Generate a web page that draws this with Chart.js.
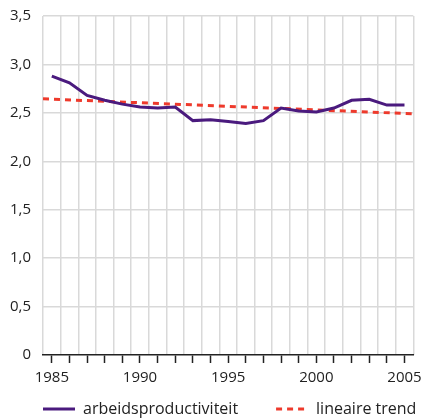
<!DOCTYPE html>
<html>
<head>
<meta charset="utf-8">
<script src="https://cdn.jsdelivr.net/npm/chart.js@4/dist/chart.umd.min.js"></script>
<style>
  html, body { margin: 0; padding: 0; background: #ffffff; }
  #wrap { width: 428px; height: 418px; position: relative; }
</style>
</head>
<body>
<div id="wrap"><canvas id="c" width="428" height="418"></canvas></div>
<script>
// ---- data ----
const years = [1985, 1986, 1987, 1988, 1989, 1990, 1991, 1992, 1993, 1994, 1995,
               1996, 1997, 1998, 1999, 2000, 2001, 2002, 2003, 2004, 2005];
const productivity = [2.88, 2.81, 2.68, 2.63, 2.59, 2.56, 2.55, 2.56, 2.42, 2.43, 2.41,
                      2.39, 2.42, 2.55, 2.52, 2.51, 2.55, 2.63, 2.64, 2.58, 2.58];
const trendYears = [1984.5, 2005.5];
const trendValues = [2.645, 2.49];
const labeledYears = [1985, 1990, 1995, 2000, 2005];
const yTicks = [0, 0.5, 1.0, 1.5, 2.0, 2.5, 3.0, 3.5];
const seriesLabels = ['arbeidsproductiviteit', 'lineaire trend'];

const FONT = "'Open Sans', 'DejaVu Sans', sans-serif";
const TXT = '#222222';
const GRID = '#d9d9d9';

const xMin = years[0] - 0.5;
const xMax = years[years.length - 1] + 0.5;

// place the legend row (drawn by Chart.js) at the reference position, on one line
const legendPlacer = {
  id: 'legendPlacer',
  afterLayout(chart) {
    const lg = chart.legend;
    if (!lg) return;
    lg.left = 5;
    lg.right = chart.width + 200;
    lg.width = lg.right - lg.left;
    lg.top = 363;
    lg.bottom = chart.height;
    lg.height = lg.bottom - lg.top;
  }
};

new Chart(document.getElementById('c'), {
  type: 'line',
  data: {
    datasets: [
      {
        label: seriesLabels[0],
        data: years.map((y, i) => ({ x: y, y: productivity[i] })),
        borderColor: '#4a1a7e',
        backgroundColor: '#4a1a7e',
        borderWidth: 3,
        pointRadius: 0,
        tension: 0,
        xAxisID: 'x'
      },
      {
        label: seriesLabels[1],
        data: trendYears.map((y, i) => ({ x: y, y: trendValues[i] })),
        borderColor: '#ee3a2c',
        backgroundColor: '#ee3a2c',
        borderWidth: 3,
        borderDash: [6, 5],
        pointRadius: 0,
        tension: 0,
        xAxisID: 'x'
      }
    ]
  },
  plugins: [legendPlacer],
  options: {
    responsive: false,
    animation: false,
    devicePixelRatio: 1,
    layout: { padding: { left: 0, right: 7, top: 16, bottom: 0 } },
    plugins: {
      tooltip: { enabled: false },
      legend: {
        position: 'bottom',
        align: 'start',
        maxHeight: 28,
        labels: {
          usePointStyle: true,
          pointStyleWidth: 32,
          boxHeight: 16,
          padding: 38,
          color: TXT,
          font: { family: FONT, size: 16 },
          generateLabels: (chart) => chart.data.datasets.map((ds, i) => ({
            text: ds.label,
            fillStyle: 'transparent',
            strokeStyle: ds.borderColor,
            lineWidth: 3,
            lineDash: ds.borderDash || [],
            lineCap: 'butt',
            pointStyle: 'line',
            hidden: false,
            datasetIndex: i,
            fontColor: TXT
          }))
        }
      }
    },
    scales: {
      x: {
        type: 'linear',
        position: 'bottom',
        min: xMin,
        max: xMax,
        afterBuildTicks: (scale) => { scale.ticks = years.map(v => ({ value: v })); },
        afterFit: (scale) => { scale.height = 35; },
        grid: {
          drawOnChartArea: false,
          drawTicks: true,
          tickLength: 8,
          tickColor: TXT,
          tickWidth: 1.5
        },
        border: { display: true, color: TXT, width: 1.5 },
        ticks: {
          autoSkip: false,
          maxRotation: 0,
          padding: 6,
          color: TXT,
          font: { family: FONT, size: 15 },
          callback: (v) => labeledYears.includes(v) ? String(v) : ''
        }
      },
      x2: {
        type: 'linear',
        position: 'top',
        min: xMin,
        max: xMax,
        afterBuildTicks: (scale) => {
          const b = years.map(v => v - 0.5);
          b.push(xMax);
          scale.ticks = b.map(v => ({ value: v }));
        },
        grid: { color: GRID, lineWidth: 1.5, drawTicks: false },
        border: { display: false },
        ticks: { display: false }
      },
      y: {
        min: 0,
        max: 3.5,
        afterBuildTicks: (scale) => { scale.ticks = yTicks.map(v => ({ value: v })); },
        afterFit: (scale) => { scale.width = 43; },
        grid: {
          color: (ctx) => (ctx.tick && ctx.tick.value === 0) ? 'rgba(0,0,0,0)' : GRID,
          lineWidth: 1.5,
          drawTicks: true,
          tickLength: 9,
          tickColor: 'rgba(0,0,0,0)'
        },
        border: { display: false },
        ticks: {
          padding: 3,
          color: TXT,
          font: { family: FONT, size: 15 },
          callback: (v) => v === 0 ? '0' : Number(v).toFixed(1).replace('.', ',')
        }
      }
    }
  }
});
</script>
</body>
</html>
